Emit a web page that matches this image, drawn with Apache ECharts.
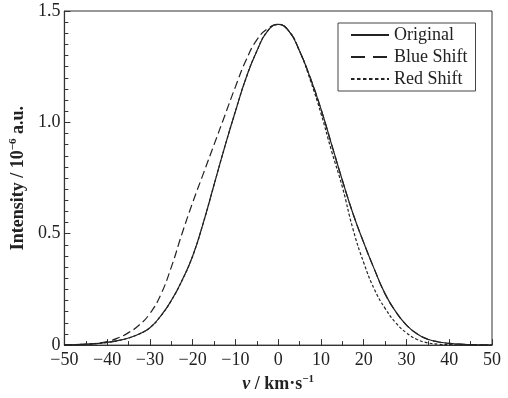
<!DOCTYPE html>
<html>
<head>
<meta charset="utf-8">
<script src="https://cdn.jsdelivr.net/npm/echarts@6/dist/echarts.min.js"></script>
<style>
  html, body { margin: 0; padding: 0; background: #fff; }
  #chart { width: 508px; height: 398px; }
</style>
</head>
<body>
<div id="chart"></div>
<script>
// velocity grid, km/s
const velocity = [-50, -47.5, -45, -42.5, -40, -37.5, -35, -32.5, -30, -27.5, -25, -22.5, -20, -17.5, -15, -12.5, -10, -7.5, -5, -2.5,
  0, 2.5, 5, 7.5, 10, 12.5, 15, 17.5, 20, 22.5, 25, 27.5, 30, 32.5, 35, 37.5, 40, 42.5, 45, 47.5, 50];
// intensity, 10^-6 a.u.
const original = [0.001, 0.002, 0.004, 0.007, 0.012, 0.02, 0.032, 0.05, 0.078, 0.13, 0.2, 0.29, 0.4, 0.55, 0.72, 0.89, 1.05, 1.2, 1.32, 1.41,
  1.44, 1.41, 1.32, 1.2, 1.06, 0.9, 0.74, 0.59, 0.46, 0.34, 0.23, 0.15, 0.09, 0.05, 0.026, 0.014, 0.008, 0.004, 0.002, 0.001, 0];
const blueShift = [0.001, 0.002, 0.004, 0.008, 0.016, 0.032, 0.056, 0.09, 0.142, 0.225, 0.35, 0.5, 0.64, 0.77, 0.9, 1.03, 1.16, 1.28, 1.37, 1.42,
  1.44, 1.41, 1.32, 1.2, 1.06, 0.9, 0.74, 0.59, 0.46, 0.34, 0.23, 0.15, 0.09, 0.05, 0.026, 0.014, 0.008, 0.004, 0.002, 0.001, 0];
const redShift = [0.001, 0.002, 0.004, 0.007, 0.012, 0.02, 0.032, 0.05, 0.078, 0.13, 0.2, 0.29, 0.4, 0.55, 0.72, 0.89, 1.05, 1.2, 1.32, 1.41,
  1.44, 1.41, 1.32, 1.19, 1.04, 0.87, 0.71, 0.52, 0.37, 0.25, 0.165, 0.1, 0.055, 0.025, 0.01, 0.004, 0.002, 0.001, 0, 0, 0];
const seriesNames = ["Original", "Blue Shift", "Red Shift"];

const serif = "'Liberation Serif', 'Times New Roman', serif";
const ink = "#222";
const pairs = (ys) => velocity.map((v, i) => [v, ys[i]]);

const chart = echarts.init(document.getElementById("chart"));
chart.setOption({
  backgroundColor: "#fff",
  animation: false,
  grid: {
    left: 62, right: 16, top: 11, bottom: 51,
    show: true, borderColor: "#333", borderWidth: 1
  },
  legend: {
    orient: "vertical",
    left: 338, top: 23,
    padding: [3, 8, 3, 12],
    borderColor: "#444", borderWidth: 1,
    itemWidth: 38, itemHeight: 14, itemGap: 4,
    itemStyle: { opacity: 0, color: "transparent", borderWidth: 0 },
    textStyle: { fontFamily: serif, fontSize: 18, color: ink, lineHeight: 18 },
    data: [
      { name: "Original" },
      { name: "Blue Shift", lineStyle: { type: [14, 8] } },
      { name: "Red Shift", lineStyle: { type: [3.5, 2.5] } }
    ]
  },
  xAxis: {
    type: "value",
    min: -50, max: 50, interval: 10,
    axisLine: { show: true, onZero: false, lineStyle: { color: "#333", width: 1.2 } },
    axisTick: { show: true, inside: true, length: 6, lineStyle: { color: "#333" } },
    minorTick: { show: true, splitNumber: 2, length: 4, lineStyle: { color: "#333" } },
    splitLine: { show: false },
    axisLabel: {
      margin: 6, fontFamily: serif, fontSize: 18, color: ink,
      formatter: (v) => (v < 0 ? "\u2212" + Math.abs(v) : String(v))
    },
    name: "{i|v}{b| / km·s}{s|\u22121}",
    nameLocation: "middle",
    nameGap: 27,
    nameTextStyle: {
      fontFamily: serif, fontSize: 18, color: ink,
      rich: {
        i: { fontFamily: serif, fontSize: 18, fontWeight: "bold", fontStyle: "italic", color: ink },
        b: { fontFamily: serif, fontSize: 18, fontWeight: "bold", color: ink },
        s: { fontFamily: serif, fontSize: 11, fontWeight: "bold", color: ink, verticalAlign: "top", lineHeight: 20 }
      }
    }
  },
  yAxis: {
    type: "value",
    min: 0, max: 1.5, interval: 0.5,
    axisLine: { show: true, onZero: false, lineStyle: { color: "#333", width: 1.2 } },
    axisTick: { show: true, inside: true, length: 6, lineStyle: { color: "#333" } },
    minorTick: { show: true, splitNumber: 10, length: 4, lineStyle: { color: "#333" } },
    splitLine: { show: false },
    axisLabel: {
      margin: 4, fontFamily: serif, fontSize: 18, color: ink,
      formatter: (v) => (v === 0 ? "0" : v.toFixed(1))
    },
    name: "{b|Intensity / 10}{s|\u22126}{b| a.u.}",
    nameLocation: "middle",
    nameGap: 31,
    nameTextStyle: {
      fontFamily: serif, fontSize: 18, color: ink,
      rich: {
        b: { fontFamily: serif, fontSize: 18, fontWeight: "bold", color: ink },
        s: { fontFamily: serif, fontSize: 11, fontWeight: "bold", color: ink, verticalAlign: "top", lineHeight: 20 }
      }
    }
  },
  series: [
    {
      name: seriesNames[0], type: "line", data: pairs(original),
      smooth: true, symbol: "none", z: 3,
      lineStyle: { color: ink, width: 1.2, type: "solid" },
      itemStyle: { color: ink }
    },
    {
      name: seriesNames[1], type: "line", data: pairs(blueShift),
      smooth: true, symbol: "none", z: 2,
      lineStyle: { color: ink, width: 1.2, type: [8, 4] },
      itemStyle: { color: ink }
    },
    {
      name: seriesNames[2], type: "line", data: pairs(redShift),
      smooth: true, symbol: "none", z: 2,
      lineStyle: { color: ink, width: 1.2, type: [3, 2] },
      itemStyle: { color: ink }
    }
  ]
});
</script>
</body>
</html>
